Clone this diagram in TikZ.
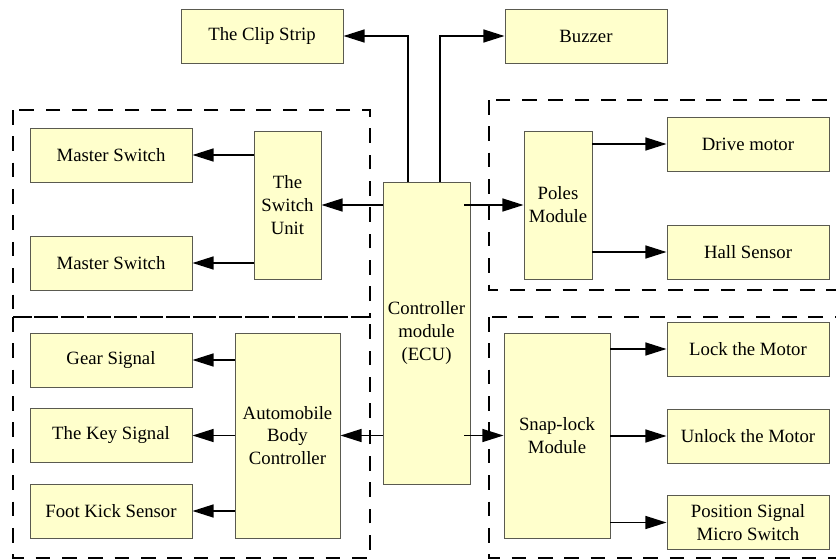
\documentclass[tikz,border=0pt]{standalone}
\usepackage{fontspec}
\setmainfont{Liberation Serif}
\usetikzlibrary{arrows.meta}
\definecolor{boxfill}{HTML}{FFFFCC}
\definecolor{boxline}{HTML}{5A5A50}
\begin{document}
\begin{tikzpicture}[x=0.03cm,y=-0.03cm,
    blk/.style={draw=boxline,fill=boxfill,line width=0.8pt,inner sep=0pt,align=center,font=\fontsize{16}{19.5}\selectfont},
    wide/.style={blk,minimum width=4.86cm,minimum height=1.62cm},
    arr/.style={line width=1.5pt,-{Triangle[length=18pt,width=11pt]}},
    grp/.style={line width=1.5pt,dash pattern=on 12.5pt off 10pt}]
      \useasboundingbox (0,0) rectangle (836,560);
      \clip (0,0) rectangle (836,560);
      \draw[grp] (13,110) rectangle (370,317);
      \draw[grp] (13,317) rectangle (370,558);
      \draw[grp] (489,100) rectangle (850,290);
      \draw[grp] (489,317) rectangle (850,558);
      \node[blk,minimum width=2.61cm,minimum height=9.06cm] (ecu) at (426.5,333) {Controller\\module\\(ECU)};
      \node[wide] (clip) at (262,36) {The Clip Strip};
      \node[wide] (buzzer) at (586,36) {Buzzer};
      \node[blk,minimum width=2.01cm,minimum height=4.44cm] (su) at (287.5,205) {The\\Switch\\Unit};
      \node[wide] (ms1) at (111,155) {Master Switch};
      \node[wide] (ms2) at (111,263) {Master Switch};
      \node[blk,minimum width=2.04cm,minimum height=4.44cm] (pm) at (558,205) {Poles\\Module};
      \node[wide] (drive) at (748,144) {Drive motor};
      \node[wide] (hall) at (748,252) {Hall Sensor};
      \node[blk,minimum width=3.15cm,minimum height=6.15cm] (abc) at (287.5,435.5) {Automobile\\Body\\Controller};
      \node[wide] (gear) at (111,360) {Gear Signal};
      \node[wide] (key) at (111,435.5) {The Key Signal};
      \node[wide] (foot) at (111,511) {Foot Kick Sensor};
      \node[blk,minimum width=3.18cm,minimum height=6.15cm] (snap) at (557,435.5) {Snap-lock\\Module};
      \node[wide] (lock) at (748,349) {Lock the Motor};
      \node[wide] (unlock) at (748,436) {Unlock the Motor};
      \node[wide] (pos) at (748,522.5) {Position Signal\\Micro Switch};
      \draw[arr] ([xshift=-0.555cm]ecu.north) |- (clip.east);
      \draw[arr] ([xshift=0.405cm]ecu.north) |- (buzzer.west);
      \draw[arr] (ecu.west |- su.east) -- (su.east);
      \draw[arr] ([xshift=-0.18cm]ecu.east |- pm.west) -- (pm.west);
      \draw[arr] (ecu.west |- abc.east) -- (abc.east);
      \draw[arr] ([xshift=-0.18cm]ecu.east |- snap.west) -- (snap.west);
      \draw[arr] (su.west |- ms1.east) -- (ms1.east);
      \draw[arr] (su.west |- ms2.east) -- (ms2.east);
      \draw[arr] (pm.east |- drive.west) -- (drive.west);
      \draw[arr] (pm.east |- hall.west) -- (hall.west);
      \draw[arr] (abc.west |- gear.east) -- (gear.east);
      \draw[arr] (abc.west |- key.east) -- (key.east);
      \draw[arr] (abc.west |- foot.east) -- (foot.east);
      \draw[arr] (snap.east |- lock.west) -- (lock.west);
      \draw[arr] (snap.east |- unlock.west) -- (unlock.west);
      \draw[arr] (snap.east |- pos.west) -- (pos.west);
    \end{tikzpicture}
\end{document}
